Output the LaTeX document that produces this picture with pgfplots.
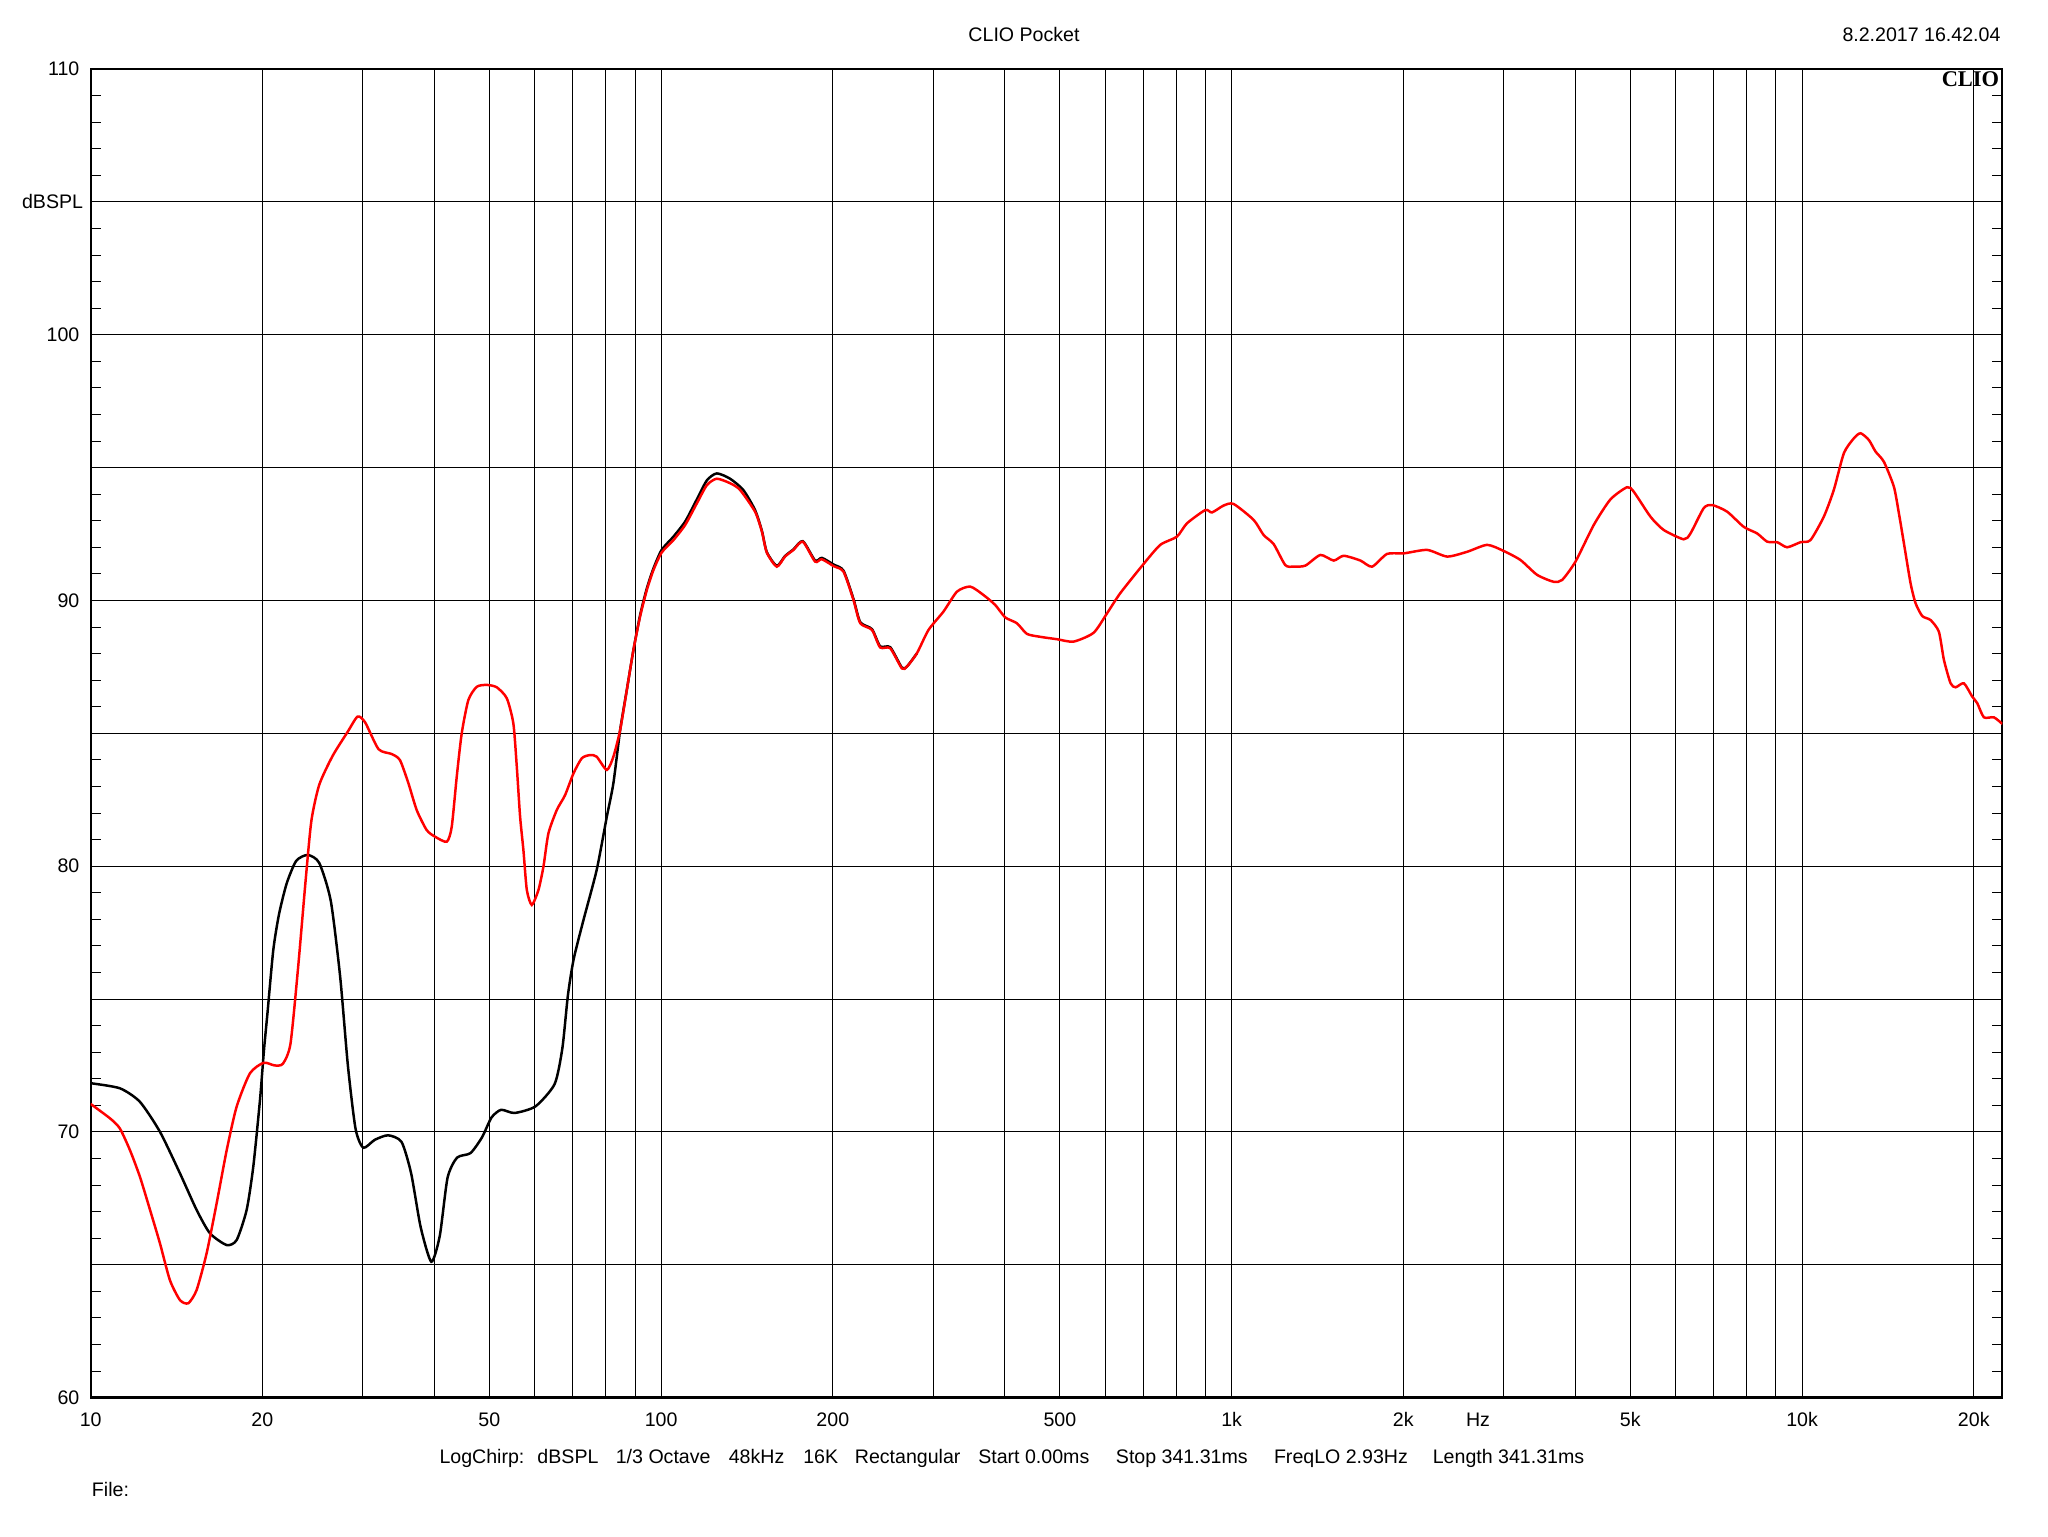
\documentclass[border=0pt]{standalone}
\usepackage{pgfplots}
\pgfplotsset{compat=1.18}
\usepackage{pgfplotstable}
\usepackage{fontspec}
\setmainfont{Liberation Sans}
\newfontfamily\cliofont{Liberation Serif}

\pgfplotstableread{
f db
10 71.05
10.81 70.51
11.25 70.13
11.72 69.31
12.2 68.31
12.71 67.06
13.23 65.8
13.77 64.42
14.34 63.67
14.83 63.55
15.34 64.05
15.97 65.43
16.63 67.31
17.32 69.31
18.03 70.95
19.02 72.2
20.1 72.6
21.0 72.5
21.72 72.56
22.4 73.31
23.1 76.17
23.83 79.53
24.38 81.72
25.16 83.06
26.56 84.15
28.25 85.07
29.37 85.63
30.28 85.41
31.97 84.4
33.7 84.22
34.85 83.99
36.06 83.12
37.29 82.11
38.82 81.36
40.14 81.11
42.1 80.92
42.95 81.48
43.83 83.37
44.72 85.0
45.93 86.25
47.52 86.75
49.48 86.82
51.51 86.73
53.63 86.32
55.08 85.37
55.85 83.74
56.6 81.86
57.36 80.61
58.16 79.1
59.34 78.54
60.95 79.1
62.19 79.98
63.45 81.23
65.63 82.11
67.86 82.67
70.21 83.49
72.61 84.06
75.09 84.18
77.1 84.12
80.32 83.62
82.48 84.12
84.76 85.12
87.07 86.63
89.42 88.13
91.88 89.4
94.39 90.39
96.94 91.14
100.2 91.8
105.1 92.27
110.2 92.84
115.5 93.65
120.3 94.34
125.2 94.58
132.1 94.41
137.5 94.16
146.1 93.34
150.2 92.59
153.2 91.8
159.5 91.27
164.9 91.65
170.6 91.9
177.2 92.21
186.2 91.46
191.3 91.55
200.6 91.29
208.8 91.08
217.4 90.01
223.4 89.14
234.2 88.89
242.1 88.23
252.1 88.2
264.3 87.44
269.7 87.51
280.8 88.01
294.3 88.89
312.6 89.58
330.1 90.33
348.3 90.52
367.5 90.2
385.2 89.83
401.1 89.36
420.5 89.14
437.8 88.74
461.9 88.63
494.1 88.54
528.4 88.45
572.8 88.78
604.7 89.51
638 90.27
701 91.37
749.9 92.09
802 92.40
835.2 92.9
899.3 93.4
924 93.31
968.3 93.57
1008 93.63
1093 93.03
1138 92.46
1185 92.12
1242 91.33
1285 91.27
1347 91.31
1431 91.71
1510 91.5
1572 91.68
1682 91.5
1763 91.27
1873 91.75
2003 91.77
2202 91.9
2387 91.65
2588 91.83
2805 92.09
2999 91.86
3209 91.52
3433 90.96
3670 90.7
3797 90.77
4007 91.46
4314 92.84
4614 93.8
4935 94.26
5070 94.09
5424 93.15
5722 92.65
6202 92.3
6374 92.52
6723 93.47
6956 93.59
7390 93.34
7902 92.77
8342 92.52
8688 92.21
9044 92.19
9417 92.0
9936 92.19
10345 92.27
10917 93.15
11368 94.16
11838 95.54
12324 96.1
12661 96.29
13093 96.04
13453 95.6
13912 95.22
14486 94.28
14782 93.28
15085 92.15
15497 90.64
15814 89.89
16247 89.41
16802 89.26
17373 88.82
17729 87.76
18212 86.88
18585 86.73
19217 86.88
19878 86.38
20284 86.13
20834 85.6
21690 85.6
22440 85.35
}\reddata

\pgfplotstableread{
f db
10 71.83
11.25 71.64
12.2 71.13
13.23 70.0
14.34 68.44
15.34 67.06
16.19 66.18
17.32 65.74
18.03 65.93
18.77 67.06
19.28 68.69
19.81 71.2
20.13 73.08
20.42 74.49
20.9 76.84
21.39 78.19
22.07 79.36
22.93 80.2
24.02 80.42
25.16 80.12
26.36 78.69
27.38 75.83
28.25 72.48
29.13 70.12
30.05 69.40
31.48 69.70
33.23 69.87
35.08 69.62
36.46 68.44
37.89 66.42
39.56 65.11
40.93 66.09
42.23 68.27
43.88 69.03
46.33 69.2
48.52 69.79
50.43 70.54
52.43 70.83
55.34 70.71
60.24 70.96
65.07 71.8
67.13 73.15
68.67 75.16
70.28 76.51
73.1 77.97
77.1 79.85
80.32 81.86
82.48 83.12
84.76 85.12
87.07 86.63
89.42 88.13
91.88 89.45
94.39 90.45
96.94 91.2
100.2 91.9
105.1 92.4
110.2 92.97
115.5 93.8
120.3 94.52
125.2 94.78
132.1 94.58
139.4 94.15
146.1 93.4
150.2 92.62
153.2 91.82
159.5 91.3
164.9 91.67
170.6 91.92
177.2 92.23
186.2 91.5
191.3 91.6
200.6 91.35
208.8 91.12
217.4 90.05
223.4 89.18
234.2 88.92
242.1 88.27
252.1 88.24
264.3 87.47
269.7 87.51
280.8 88.01
}\blackdata

\begin{document}
\begin{tikzpicture}[font=\fontsize{7.5bp}{9bp}\selectfont]
\path[use as bounding box] (0,0) rectangle (784bp,-588bp);
\begin{axis}[
  at={(34.7bp,-535bp)}, anchor=south west,
  scale only axis, width=731.8bp, height=508.6bp,
  xmode=log, xmin=10, xmax=22440, ymin=60, ymax=110,
  xtick={10,20,50,100,200,500,1000,2000,5000,10000,20000},
  xticklabels={10,20,50,100,200,500,1k,2k,5k,10k,20k},
  minor xtick={30,40,60,70,80,90,300,400,600,700,800,900,3000,4000,6000,7000,8000,9000},
  ytick={60,70,80,90,100,110},
  minor ytick={65,75,85,95,105},
  grid=both,
  major grid style={black, line width=0.36bp},
  minor grid style={black, line width=0.36bp},
  major tick length=0pt, minor tick length=0pt,
  tick style={black, line width=0.36bp},
  extra y ticks={61,62,63,64,65,66,67,68,69,71,72,73,74,75,76,77,78,79,81,82,83,84,85,86,87,88,89,91,92,93,94,95,96,97,98,99,101,102,103,104,105,106,107,108,109},
  extra y tick labels={},
  extra y tick style={grid=none, major tick length=3.8bp, tick style={black, line width=0.36bp}},
  axis line style={black, line width=0.85bp},
  /pgf/number format/assume math mode=true,
  tick label style={font=\fontsize{7.5bp}{9bp}\selectfont},
  xticklabel style={anchor=base, yshift=-11.2bp},
  yticklabel style={anchor=east, xshift=-0.8bp},
  clip=true,
]
\addplot[black, line width=0.95bp, smooth, tension=0.4] table[x=f, y=db] {\blackdata};
\addplot[red, line width=0.95bp, smooth, tension=0.4] table[x=f, y=db] {\reddata};
\end{axis}
% titles
\node[anchor=base, inner sep=0] at (392bp,-16bp) {CLIO Pocket};
\node[anchor=base east, inner sep=0] at (766bp,-16bp) {8.2.2017 16.42.04};
\node[anchor=base east, inner sep=0] at (765.5bp,-33.2bp) {\cliofont\bfseries\fontsize{8.6bp}{9bp}\selectfont CLIO};
\node[anchor=east, inner sep=0] at (32bp,-77.3bp) {dBSPL};
\node[anchor=base, inner sep=0] at (565.8bp,-546.2bp) {Hz};
% bottom info line
\foreach \xx/\tt in {168.05/{LogChirp:}, 205.55/{dBSPL}, 235.55/{1/3 Octave}, 278.8/{48kHz}, 307.3/{16K}, 327.05/{Rectangular}, 374.3/{Start 0.00ms}, 427/{Stop 341.31ms}, 487.5/{FreqLO 2.93Hz}, 548.3/{Length 341.31ms}}
  \node[anchor=base west, inner sep=0] at (\xx bp,-560.2bp) {\tt};
\node[anchor=base west, inner sep=0] at (35bp,-573bp) {File:};
\end{tikzpicture}
\end{document}
